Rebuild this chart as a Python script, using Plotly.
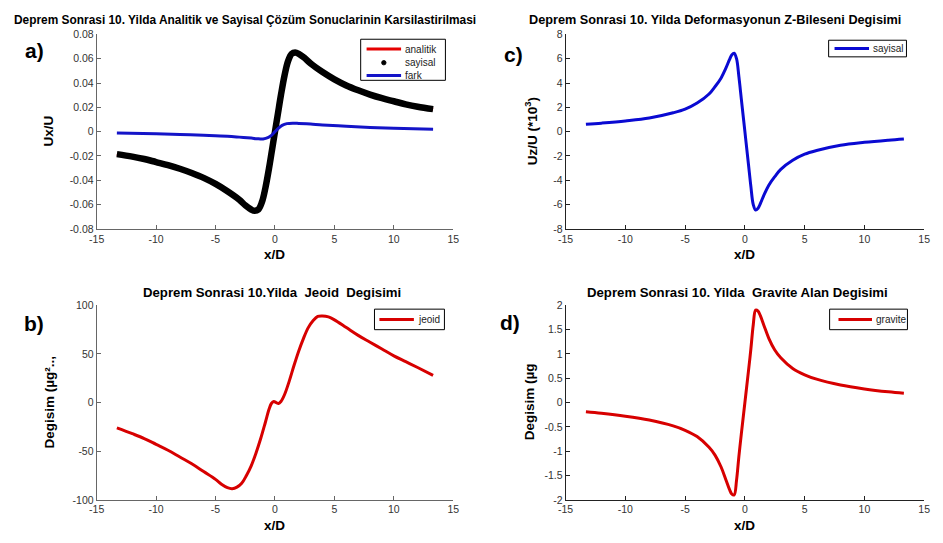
import plotly.graph_objects as go

# ---------------- data ----------------
# a) Ux/U
xa = [-13.3, -12, -11, -10, -9, -8, -7, -6, -5, -4, -3, -2.5, -2, -1.7, -1.4, -1.1, -0.8, -0.5, -0.25, 0,
      0.25, 0.5, 0.8, 1.1, 1.4, 1.7, 2, 2.5, 3, 4, 5, 6, 7, 8, 9, 10, 11, 12, 13.3]
ux_analitik = [-0.0185, -0.0205, -0.0225, -0.0250, -0.0275, -0.0305, -0.0340, -0.0380, -0.0430, -0.0490,
               -0.0560, -0.0605, -0.0640, -0.0650, -0.0640, -0.0580, -0.0460, -0.0300, -0.0150, 0.0,
               0.0150, 0.0300, 0.0460, 0.0580, 0.0640, 0.0650, 0.0640, 0.0605, 0.0560, 0.0490,
               0.0430, 0.0380, 0.0340, 0.0305, 0.0275, 0.0250, 0.0225, 0.0205, 0.0185]
ux_sayisal = [-0.0185, -0.0205, -0.0225, -0.0250, -0.0275, -0.0305, -0.0340, -0.0380, -0.0430, -0.0490,
              -0.0560, -0.0605, -0.0640, -0.0650, -0.0640, -0.0580, -0.0460, -0.0300, -0.0150, 0.0,
              0.0150, 0.0300, 0.0460, 0.0580, 0.0640, 0.0650, 0.0640, 0.0605, 0.0560, 0.0490,
              0.0430, 0.0380, 0.0340, 0.0305, 0.0275, 0.0250, 0.0225, 0.0205, 0.0185]
xf = [-13.3, -10, -8, -6, -4, -3, -2, -1.5, -1, -0.6, -0.3, 0, 0.3, 0.6, 1, 1.5, 2, 3, 4, 6, 8, 10, 13.3]
ux_fark = [-0.0012, -0.0018, -0.0023, -0.0030, -0.0038, -0.0045, -0.0053, -0.0058, -0.0060, -0.0050,
           -0.0030, 0.0, 0.0030, 0.0052, 0.0066, 0.0070, 0.0068, 0.0062, 0.0055, 0.0045, 0.0035,
           0.0028, 0.0020]

# c) Uz/U (*10^3)
xc = [-13.3, -12, -10, -8, -6, -5, -4, -3, -2.5, -2, -1.6, -1.3, -1.1, -0.9, -0.7, -0.5, -0.3, 0,
      0.3, 0.5, 0.7, 0.9, 1.1, 1.3, 1.6, 2, 2.5, 3, 4, 5, 6, 8, 10, 12, 13.3]
uz_sayisal = [0.60, 0.70, 0.88, 1.12, 1.55, 1.85, 2.35, 3.1, 3.7, 4.4, 5.2, 5.9, 6.3, 6.45, 6.0, 4.5, 2.7, 0.0,
              -2.7, -4.5, -6.0, -6.45, -6.3, -5.9, -5.2, -4.4, -3.7, -3.1, -2.35, -1.85, -1.55, -1.12,
              -0.88, -0.70, -0.60]

# b) jeoid
xb = [-13.3, -12, -11, -10, -9, -8, -7, -6, -5, -4.5, -4, -3.6, -3.2, -2.8, -2.4, -2, -1.6, -1.2, -0.8,
      -0.5, -0.3, -0.1, 0.1, 0.3, 0.5, 0.8, 1.2, 1.6, 2, 2.4, 2.8, 3.2, 3.6, 4, 4.5, 5, 6, 7, 8, 9, 10,
      11, 12, 13.3]
jeoid = [-26, -32, -37, -43, -49, -56, -63, -71, -79, -84, -87.5, -88.5, -87, -83, -75, -65, -52, -37, -20,
         -7, -1, 1, 0, -1, 1, 8, 22, 38, 53, 66, 77, 84, 88.5, 89, 88, 85, 77, 69, 62, 55, 48, 42, 36, 28]

# d) gravite
xd = [-13.3, -12, -10, -8, -6, -5, -4, -3, -2.5, -2, -1.6, -1.3, -1.1, -0.9, -0.7, -0.5, -0.3, 0,
      0.3, 0.5, 0.7, 0.9, 1.1, 1.3, 1.6, 2, 2.5, 3, 4, 5, 6, 8, 10, 12, 13.3]
gravite = [-0.19, -0.22, -0.28, -0.36, -0.48, -0.57, -0.70, -0.92, -1.08, -1.32, -1.58, -1.78, -1.88,
           -1.90, -1.6, -1.1, -0.65, 0.0, 0.65, 1.1, 1.6, 1.90, 1.88, 1.78, 1.58, 1.32, 1.08, 0.92,
           0.70, 0.57, 0.48, 0.36, 0.28, 0.22, 0.19]

x_ticks = [-15, -10, -5, 0, 5, 10, 15]
ya_ticks = [-0.08, -0.06, -0.04, -0.02, 0, 0.02, 0.04, 0.06, 0.08]
yc_ticks = [-8, -6, -4, -2, 0, 2, 4, 6, 8]
yb_ticks = [-100, -50, 0, 50, 100]
yd_ticks = [-2, -1.5, -1, -0.5, 0, 0.5, 1, 1.5, 2]


def lbl(v):
    return '%g' % v  # hyphen minus like MATLAB


RED = 'rgb(230,0,0)'
DRED = 'rgb(215,0,0)'
BLUE = 'rgb(20,20,200)'
CBLUE = 'rgb(10,10,210)'
FONT = 'Liberation Sans, Arial, sans-serif'

fig = go.Figure()
# a)
fig.add_trace(go.Scatter(x=xa, y=ux_analitik, mode='lines', name='analitik',
                         line=dict(color=RED, width=3, shape='spline'), xaxis='x', yaxis='y'))
fig.add_trace(go.Scatter(x=xa, y=ux_sayisal, mode='lines', name='sayisal',
                         line=dict(color='black', width=6.5, shape='spline'), xaxis='x', yaxis='y'))
fig.add_trace(go.Scatter(x=xf, y=ux_fark, mode='lines', name='fark',
                         line=dict(color=BLUE, width=3, shape='spline'), xaxis='x', yaxis='y'))
# c)
fig.add_trace(go.Scatter(x=xc, y=uz_sayisal, mode='lines', name='sayisal',
                         line=dict(color=CBLUE, width=3, shape='spline'), xaxis='x2', yaxis='y2'))
# b)
fig.add_trace(go.Scatter(x=xb, y=jeoid, mode='lines', name='jeoid',
                         line=dict(color=DRED, width=3, shape='spline'), xaxis='x3', yaxis='y3'))
# d)
fig.add_trace(go.Scatter(x=xd, y=gravite, mode='lines', name='gravite',
                         line=dict(color=DRED, width=3, shape='spline'), xaxis='x4', yaxis='y4'))

W, H = 943, 543


def px(x):
    return x / W


def py(y):
    return 1 - y / H


xdomL = [px(90), px(452)]
xdomR = [px(566), px(930)]
ydomT = [py(228), py(29)]
ydomB = [py(505), py(306)]


def xax(dom, anchor, col):
    return dict(domain=dom, anchor=anchor, range=[-15, 15], tickvals=x_ticks, ticktext=[lbl(v) for v in x_ticks],
                ticks='inside', ticklen=4, tickcolor=col, showline=True, linecolor=col, linewidth=1,
                showgrid=False, zeroline=False, tickfont=dict(size=10.5, color='#333', family=FONT), mirror=False)


def yax(dom, anchor, rng, vals, col):
    return dict(domain=dom, anchor=anchor, range=rng, tickvals=vals, ticktext=[lbl(v) for v in vals],
                ticks='inside', ticklen=4, tickcolor=col, showline=True, linecolor=col, linewidth=1,
                showgrid=False, zeroline=False, tickfont=dict(size=10.5, color='#333', family=FONT), mirror=False)


annotations = []
shapes = []


def ann(text, x, y, size, bold=True, angle=0, xanchor='center', color='black'):
    annotations.append(dict(text=('<b>%s</b>' % text) if bold else text, x=px(x), y=py(y), xref='paper',
                            yref='paper', showarrow=False, font=dict(size=size, family=FONT, color=color),
                            textangle=angle, xanchor=xanchor, yanchor='middle'))


def legend_box(x0, y0, x1, y1, items):
    # items: (kind, color, label, y, line_x0, line_x1, text_x)
    shapes.append(dict(type='rect', xref='paper', yref='paper', x0=px(x0), x1=px(x1), y0=py(y1), y1=py(y0),
                       line=dict(color='black', width=1), fillcolor='white', layer='above'))
    for kind, color, label, y, lx0, lx1, tx in items:
        if kind == 'line':
            shapes.append(dict(type='line', xref='paper', yref='paper', x0=px(lx0), x1=px(lx1), y0=py(y), y1=py(y),
                               line=dict(color=color, width=3), layer='above'))
        else:
            c = (lx0 + lx1) / 2
            shapes.append(dict(type='circle', xref='paper', yref='paper', x0=px(c - 2.2), x1=px(c + 2.2),
                               y0=py(y + 2.2), y1=py(y - 2.2), line=dict(color='black', width=1),
                               fillcolor='black', layer='above'))
        ann(label, tx, y, 10, bold=False, xanchor='left', color='#222')


legend_box(358, 34, 444, 76, [('line', RED, 'analitik', 44, 364, 399, 401),
                              ('dot', 'black', 'sayisal', 58, 364, 399, 401),
                              ('line', BLUE, 'fark', 71, 364, 399, 401)])
legend_box(833, 35, 912, 52, [('line', CBLUE, 'sayisal', 43.5, 839, 874, 876)])
legend_box(372, 310, 443, 331, [('line', DRED, 'jeoid', 320.5, 377, 412, 414)])
legend_box(834, 310, 913, 331, [('line', DRED, 'gravite', 320.5, 843, 877, 879)])

ann('Deprem Sonrasi 10. Yilda Analitik ve Sayisal Çözüm Sonuclarinin Karsilastirilmasi', 241, 14, 11.9)
ann('Deprem Sonrasi 10. Yilda Deformasyonun Z-Bileseni Degisimi', 718, 14, 12.7)
ann('Deprem Sonrasi 10.Yilda  Jeoid  Degisimi', 268, 293, 13.2)
ann('Deprem Sonrasi 10. Yilda  Gravite Alan Degisimi', 741, 293, 13.2)
ann('a)', 27, 46, 21)
ann('c)', 513, 50, 21)
ann('b)', 26, 325, 21)
ann('d)', 510, 324, 21)
ann('x/D', 271, 254, 13.5)
ann('x/D', 748, 254, 13.5)
ann('x/D', 271, 531, 13.5)
ann('x/D', 748, 531, 13.5)
ann('Ux/U', 41, 128, 13.5, angle=-90)
ann('Uz/U (*10<sup>3</sup>)', 531, 128, 13.5, angle=-90)
ann('Degisim (µg²..,', 42, 405, 13.5, angle=-90)
ann('Degisim (µg', 529, 405, 13.5, angle=-90)

fig.update_layout(
    width=W, height=H, margin=dict(l=0, r=0, t=0, b=0), paper_bgcolor='white', plot_bgcolor='white',
    font=dict(family=FONT), showlegend=False,
    xaxis=xax(xdomL, 'y', '#666'), yaxis=yax(ydomT, 'x', [-0.08, 0.08], ya_ticks, '#666'),
    xaxis2=xax(xdomR, 'y2', '#222'), yaxis2=yax(ydomT, 'x2', [-8, 8], yc_ticks, '#222'),
    xaxis3=xax(xdomL, 'y3', '#666'), yaxis3=yax(ydomB, 'x3', [-100, 100], yb_ticks, '#666'),
    xaxis4=xax(xdomR, 'y4', '#222'), yaxis4=yax(ydomB, 'x4', [-2, 2], yd_ticks, '#222'),
    annotations=annotations, shapes=shapes,
)

fig.write_html('out.html')
